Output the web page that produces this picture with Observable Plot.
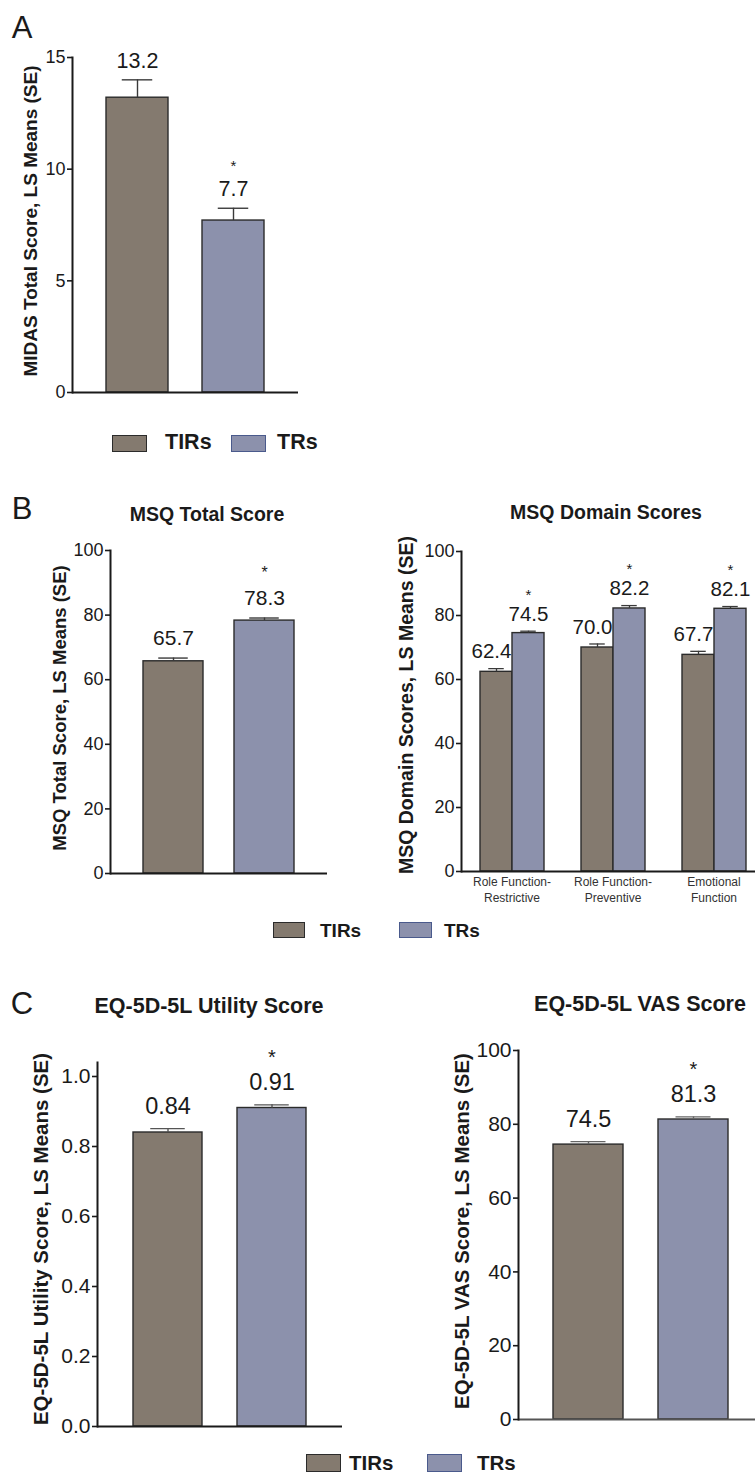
<!DOCTYPE html>
<html><head><meta charset="utf-8">
<script src="https://cdn.jsdelivr.net/npm/d3@7"></script>
<script src="https://cdn.jsdelivr.net/npm/@observablehq/plot@0.6"></script>
<style>
html,body{margin:0;padding:0;background:#fff;}
#fig{position:relative;width:755px;height:1475px;overflow:hidden;font-family:"Liberation Sans",Arial,sans-serif;color:#1a1a1a;}
#fig svg{position:absolute;overflow:visible;}
.c{position:absolute;transform:translate(-50%,-50%);white-space:nowrap;line-height:1;}
.rot{position:absolute;transform:translate(-50%,-50%) rotate(-90deg);white-space:nowrap;line-height:1;font-weight:bold;}
.lbl{position:absolute;line-height:1;transform:translateY(-50%);font-weight:bold;white-space:nowrap;}
.sw{position:absolute;box-sizing:border-box;}
</style></head><body><div id="fig"></div>
<script>
// ---------- data ----------
const groups = ["TIRs", "TRs"];
const groupColors = ["#847a6f", "#8c91ac"];
const swatchStrokes = ["#2b2b2b", "#4a5a8c"];

const midasValues = [13.2, 7.7];
const midasSE = [0.8, 0.55];
const midasStar = [false, true];
const midasTicks = [0, 5, 10, 15];

const msqTotalValues = [65.7, 78.3];
const msqTotalSE = [1.0, 0.8];
const msqTotalStar = [false, true];
const msqTicks = [0, 20, 40, 60, 80, 100];

const msqDomains = ["Role Function-Restrictive", "Role Function-Preventive", "Emotional Function"];
const msqDomainLabels = ["Role Function-\nRestrictive", "Role Function-\nPreventive", "Emotional\nFunction"];
const msqDomainTIRs = [62.4, 70.0, 67.7];
const msqDomainTRs = [74.5, 82.2, 82.1];
const msqDomainTIRsSE = [1.0, 1.1, 1.1];
const msqDomainTRsSE = [0.6, 0.9, 0.7];
const msqDomainStar = [true, true, true];

const eqUtilValues = [0.84, 0.91];
const eqUtilSE = [0.011, 0.009];
const eqUtilStar = [false, true];
const eqUtilTicks = [0, 0.2, 0.4, 0.6, 0.8, 1.0];

const eqVasValues = [74.5, 81.3];
const eqVasSE = [0.8, 0.7];
const eqVasStar = [false, true];
const eqVasTicks = [0, 20, 40, 60, 80, 100];

// ---------- helpers ----------
const fig = document.getElementById("fig");
const FONT = '"Liberation Sans", Arial, sans-serif';

function fixFonts(svg, tickFont) {
  svg.querySelectorAll('g[aria-label^="y-axis"] text').forEach(t => {
    t.style.fontSize = tickFont + "px";
    t.style.fontFamily = FONT;
  });
}
function place(svg, left, top) {
  svg.style.left = left + "px";
  svg.style.top = top + "px";
  fig.appendChild(svg);
}
function addText(cls, text, x, y, size, extra = {}) {
  const d = document.createElement("div");
  d.className = cls;
  d.textContent = text;
  d.style.left = x + "px";
  d.style.top = y + "px";
  d.style.fontSize = size + "px";
  Object.assign(d.style, extra);
  fig.appendChild(d);
}
function addLegend(items, y, h, size) {
  items.forEach(it => {
    const s = document.createElement("div");
    s.className = "sw";
    Object.assign(s.style, {left: it.sx + "px", top: (y - h / 2) + "px", width: it.sw + "px", height: h + "px",
      background: it.color, border: "1.5px solid " + it.stroke});
    fig.appendChild(s);
    addText("lbl", it.label, it.tx, y, size);
  });
}

function twoBar(cfg) {
  const data = groups.map((g, i) => ({group: g, value: cfg.values[i], se: cfg.se[i], star: cfg.star[i]}));
  const band = d3.scaleBand().domain(groups)
    .range([cfg.marginLeft, cfg.width - cfg.marginRight])
    .paddingInner(cfg.pi).paddingOuter(cfg.po);
  const capInset = band.bandwidth() / 4;
  const top = d => d.value + d.se;
  const svg = Plot.plot({
    width: cfg.width, height: cfg.height,
    marginLeft: cfg.marginLeft, marginRight: cfg.marginRight,
    marginTop: cfg.marginTop, marginBottom: cfg.marginBottom,
    style: {fontFamily: FONT, fontSize: cfg.tickFont + "px", color: "#1a1a1a", background: "transparent"},
    x: {domain: groups, paddingInner: cfg.pi, paddingOuter: cfg.po, axis: null},
    y: {domain: cfg.yDomain, axis: null},
    color: {domain: groups, range: groupColors},
    marks: [
      Plot.barY(data, {x: "group", y: "value", fill: "group", stroke: "#2b2b2b", strokeWidth: 1.4}),
      Plot.ruleX(data, {x: "group", y1: "value", y2: top, stroke: cfg.errColor, strokeWidth: 1.4}),
      Plot.tickY(data, {x: "group", y: top, insetLeft: capInset, insetRight: capInset, stroke: cfg.errColor, strokeWidth: 1.4}),
      Plot.text(data, {x: "group", y: top, text: d => cfg.fmt(d.value), dy: cfg.valueDy, fontSize: cfg.valueFont, fill: "#1a1a1a"}),
      Plot.text(data.filter(d => d.star), {x: "group", y: top, text: () => "*", dy: cfg.starDy, fontSize: cfg.starFont, fill: "#1a1a1a"}),
      Plot.ruleY([0], {stroke: cfg.xAxisColor || "#1a1a1a", strokeWidth: 2}),
      Plot.frame({anchor: "left", stroke: "#1a1a1a", strokeWidth: 2}),
      Plot.axisY({ticks: cfg.ticks, tickFormat: cfg.tickFormat, tickSize: cfg.tickSize || 5, tickPadding: 2,
        fontSize: cfg.tickFont, label: null, stroke: "#1a1a1a", strokeWidth: 1.6})
    ]
  });
  fixFonts(svg, cfg.tickFont);
  return svg;
}

// ---------- Panel A ----------
place(twoBar({
  values: midasValues, se: midasSE, star: midasStar,
  yDomain: [0, 15], ticks: midasTicks, tickFormat: d3.format("d"), fmt: d3.format(".1f"),
  width: 310, height: 420, marginLeft: 72, marginRight: 12, marginTop: 57, marginBottom: 28,
  pi: 0.35, po: 0.34, tickFont: 18, valueFont: 21.5, starFont: 15, valueDy: -19, starDy: -42, errColor: "#3a3a3a"
}), 0, 0);
addText("c", "A", 22, 27, 31);
addText("rot", "MIDAS Total Score, LS Means (SE)", 30, 221, 19);
addLegend([
  {sx: 112, sw: 35, color: groupColors[0], stroke: swatchStrokes[0], tx: 165, label: groups[0]},
  {sx: 231, sw: 35, color: groupColors[1], stroke: swatchStrokes[1], tx: 277, label: groups[1]}
], 443, 17, 21.5);

// ---------- Panel B left ----------
place(twoBar({
  values: msqTotalValues, se: msqTotalSE, star: msqTotalStar,
  yDomain: [0, 100], ticks: msqTicks, tickFormat: d3.format("d"), fmt: d3.format(".1f"),
  width: 340, height: 400, marginLeft: 110, marginRight: 13, marginTop: 50, marginBottom: 27,
  pi: 0.337, po: 0.348, tickFont: 18, valueFont: 21, starFont: 16, valueDy: -20, starDy: -45, errColor: "#3a3a3a"
}), 0, 500);
addText("c", "B", 22, 508, 31);
addText("c", "MSQ Total Score", 207, 515, 19.5, {fontWeight: "bold"});
addText("rot", "MSQ Total Score, LS Means (SE)", 60, 708, 18.5);

// ---------- Panel B right (grouped) ----------
const domData = [];
msqDomains.forEach((d, i) => {
  domData.push({domain: d, group: groups[0], value: msqDomainTIRs[i], se: msqDomainTIRsSE[i], star: false});
  domData.push({domain: d, group: groups[1], value: msqDomainTRs[i], se: msqDomainTRsSE[i], star: msqDomainStar[i]});
});
{
  const W = 400, ML = 80, MR = 15.5;
  const fxBand = d3.scaleBand().domain(msqDomains).range([ML, W - MR]).padding(0);
  const xBand = d3.scaleBand().domain(groups).range([0, fxBand.bandwidth()]).paddingInner(0).paddingOuter(0.538);
  const capInset = xBand.bandwidth() / 4;
  const top = d => d.value + d.se;
  const labelOf = d => msqDomainLabels[msqDomains.indexOf(d)];
  const fmt1 = d => d3.format(".1f")(d.value);
  const svg = Plot.plot({
    width: W, height: 410, marginLeft: ML, marginRight: MR, marginTop: 51, marginBottom: 39,
    style: {fontFamily: FONT, fontSize: "18px", color: "#1a1a1a", background: "transparent"},
    fx: {domain: msqDomains, paddingInner: 0, paddingOuter: 0, label: null},
    x: {domain: groups, paddingInner: 0, paddingOuter: 0.538, axis: null},
    y: {domain: [0, 100], axis: null},
    color: {domain: groups, range: groupColors},
    marks: [
      Plot.axisFx({anchor: "bottom", tickSize: 0, tickPadding: 3, fontSize: 12, lineHeight: 1.33, tickFormat: labelOf, label: null, fill: "#333"}),
      Plot.barY(domData, {fx: "domain", x: "group", y: "value", fill: "group", stroke: "#2b2b2b", strokeWidth: 1.4}),
      Plot.ruleX(domData, {fx: "domain", x: "group", y1: "value", y2: top, stroke: "#3a3a3a", strokeWidth: 1.3}),
      Plot.tickY(domData, {fx: "domain", x: "group", y: top, insetLeft: capInset, insetRight: capInset, stroke: "#3a3a3a", strokeWidth: 1.3}),
      Plot.text(domData.filter(d => d.group === groups[0]), {fx: "domain", x: "group", y: top, text: fmt1, dy: -17, dx: -5, fontSize: 20.5, fill: "#1a1a1a"}),
      Plot.text(domData.filter(d => d.group === groups[1]), {fx: "domain", x: "group", y: top, text: fmt1, dy: -17, fontSize: 20.5, fill: "#1a1a1a"}),
      Plot.text(domData.filter(d => d.star), {fx: "domain", x: "group", y: top, text: () => "*", dy: -36, fontSize: 15, fill: "#1a1a1a"}),
      Plot.ruleY([0], {stroke: "#1a1a1a", strokeWidth: 2}),
      Plot.frame({anchor: "left", facetAnchor: "left", stroke: "#1a1a1a", strokeWidth: 2}),
      Plot.axisY({ticks: msqTicks, tickFormat: d3.format("d"), tickSize: 5, tickPadding: 2, fontSize: 18, label: null, stroke: "#1a1a1a", strokeWidth: 1.6})
    ]
  });
  fixFonts(svg, 18);
  place(svg, 380, 500);
}
addText("c", "MSQ Domain Scores", 606, 513, 19.5, {fontWeight: "bold"});
addText("rot", "MSQ Domain Scores, LS Means (SE)", 407, 705, 19.5);
addLegend([
  {sx: 273, sw: 32, color: groupColors[0], stroke: swatchStrokes[0], tx: 320, label: groups[0]},
  {sx: 399, sw: 33, color: groupColors[1], stroke: swatchStrokes[1], tx: 444, label: groups[1]}
], 930, 16, 19);

// ---------- Panel C left ----------
place(twoBar({
  values: eqUtilValues, se: eqUtilSE, star: eqUtilStar,
  yDomain: [0, 1.04], ticks: eqUtilTicks, tickFormat: d3.format(".1f"), fmt: d3.format(".2f"),
  width: 360, height: 450, marginLeft: 97, marginRight: 18, marginTop: 62, marginBottom: 24,
  pi: 0.337, po: 0.346, tickFont: 21, valueFont: 23.5, starFont: 20, valueDy: -22, starDy: -47, errColor: "#555"
}), 0, 1000);
addText("c", "C", 22, 1003, 31);
addText("c", "EQ-5D-5L Utility Score", 209, 1007, 21.5, {fontWeight: "bold"});
addText("rot", "EQ-5D-5L Utility Score, LS Means (SE)", 41, 1239, 20.5);

// ---------- Panel C right ----------
place(twoBar({
  values: eqVasValues, se: eqVasSE, star: eqVasStar,
  yDomain: [0, 100], ticks: eqVasTicks, tickFormat: d3.format("d"), fmt: d3.format(".1f"),
  width: 340, height: 441, marginLeft: 78, marginRight: 17, marginTop: 50, marginBottom: 22,
  pi: 0.333, po: 0.333, tickFont: 21, valueFont: 23.5, starFont: 20, valueDy: -22, starDy: -47, errColor: "#666",
  xAxisColor: "#555"
}), 440, 1000);
addText("c", "EQ-5D-5L VAS Score", 640, 1005, 21.5, {fontWeight: "bold"});
addText("rot", "EQ-5D-5L VAS Score, LS Means (SE)", 462, 1231, 20.5);
addLegend([
  {sx: 306, sw: 35, color: groupColors[0], stroke: swatchStrokes[0], tx: 349, label: groups[0]},
  {sx: 427, sw: 35, color: groupColors[1], stroke: swatchStrokes[1], tx: 477, label: groups[1]}
], 1463, 18, 20.5);
</script></body></html>
